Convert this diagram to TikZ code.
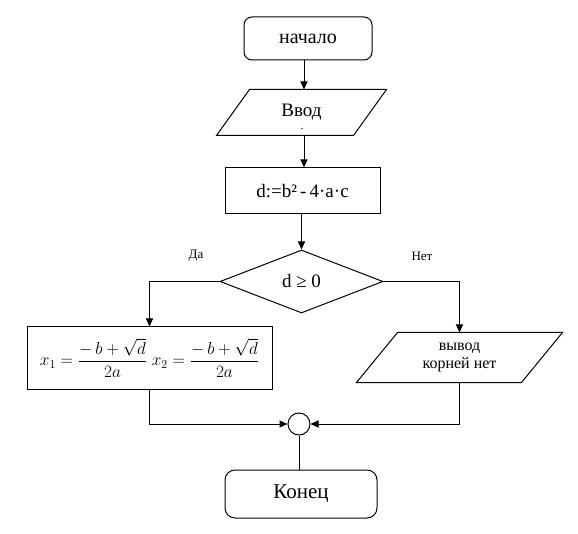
\documentclass[tikz,border=0pt]{standalone}
\usepackage{amsmath}
\usepackage{fontspec}
\setmainfont{Liberation Serif}
\newfontfamily\tms{Liberation Serif}
\usetikzlibrary{arrows.meta,shapes.geometric}
\begin{document}
\begin{tikzpicture}[x=1pt,y=-1pt,
  line width=1pt,
  arr/.style={-{Triangle[length=8pt,width=7pt]}},
  rbox/.style={draw,rounded corners=8pt,inner sep=0pt},
  pbox/.style={draw,inner sep=0pt},
  ghost/.style={inner sep=0pt,align=center},
  lbl/.style={font=\tms\fontsize{13}{15}\selectfont}]
\useasboundingbox (0,0) rectangle (578,534);
\coordinate (axis) at (304,0);
% start
\node[rbox,minimum width=128pt,minimum height=43pt,font=\tms\fontsize{20}{22}\selectfont] (start) at (308,38.5) {начало};
% input parallelogram
\node[ghost,minimum width=136pt,minimum height=45pt,font=\tms\fontsize{19}{21}\selectfont] (in) at (301.5,112.5) {Ввод};
\draw ([xshift=16.5pt]in.north west) -- ([xshift=16.5pt]in.north east) -- ([xshift=-16.5pt]in.south east) -- ([xshift=-16.5pt]in.south west) -- cycle;
\node[inner sep=0pt,font=\tms\fontsize{12}{12}\selectfont] (dot) at (302,129) {.};
% process
\node[pbox,minimum width=155pt,minimum height=46pt,font=\tms\fontsize{19}{21}\selectfont] (proc) at (302.5,191) {d:=b²\,-\,4·a·c};
% decision
\node[diamond,draw,inner sep=0pt,minimum width=163pt,minimum height=63pt,font=\tms\fontsize{19}{21}\selectfont] (dec) at (301.5,281.5) {d ≥ 0};
% formula box
\node[pbox,minimum width=245pt,minimum height=62pt,font=\fontsize{18.5}{21}\selectfont] (form) at (149.5,358) {$x_1=\dfrac{-\,b+\sqrt{d}}{2a}\ x_2=\dfrac{-\,b+\sqrt{d}}{2a}$};
% output parallelogram
\node[ghost,minimum width=164pt,minimum height=49pt,font=\tms\fontsize{16}{18}\selectfont] (out) at (459.5,357.5) {вывод\\корней нет};
\draw ([xshift=20.5pt]out.north west) -- ([xshift=20.5pt]out.north east) -- ([xshift=-20.5pt]out.south east) -- ([xshift=-20.5pt]out.south west) -- cycle;
% junction
\node[circle,draw,minimum size=22pt,inner sep=0pt] (j) at (299,424) {};
% end
\node[rbox,rounded corners=10pt,minimum width=152pt,minimum height=48pt,font=\tms\fontsize{21}{23}\selectfont] (end) at (301,494) {Конец};
% labels
\node[lbl] (yes) at (196,256) {Да};
\node[lbl] (no) at (422,256) {Нет};
% connectors
\draw[arr] (start.south -| axis) -- (in.north -| axis);
\draw[arr] (in.south -| axis) -- (proc.north -| axis);
\draw[arr] (proc.south -| dec.north) -- (dec.north);
\draw[arr] (dec.west) -| (form.north);
\draw[arr] (dec.east) -| (out.north);
\draw[arr] (form.south) |- (j.west);
\draw[arr] (out.south) |- (j.east);
\draw (j.south) -- (j.south |- end.north);
\end{tikzpicture}
\end{document}
